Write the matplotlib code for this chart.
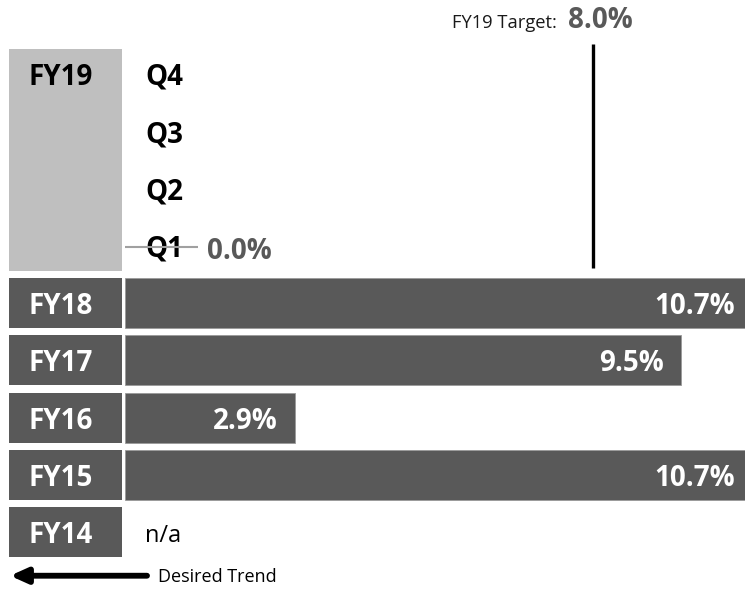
import matplotlib
matplotlib.use("Agg")
import matplotlib.pyplot as plt

plt.rcParams['font.family'] = ['Open Sans', 'DejaVu Sans']

# data
years = ['FY18', 'FY17', 'FY16', 'FY15', 'FY14']
year_values = [10.7, 9.5, 2.9, 10.7, None]
quarters = ['Q4', 'Q3', 'Q2', 'Q1']
quarter_values = [None, None, None, 0.0]
current_year = 'FY19'
target = 8.0
target_label = 'FY19 Target:'

BAR = '#595959'
LIGHT = '#bfbfbf'
BIG = 20
DY = 0.06  # nudge text down a little so caps sit in the middle of the row

fig = plt.figure(figsize=(7.45, 5.9), dpi=100)
ax = fig.add_axes([0, 0, 1, 1])
ax.set_xlim(-2.135, 10.589)
ax.set_ylim(5.009, -5.288)
ax.axis('off')

h = 0.873
box_left, box_w = -1.973, 1.922
text_x = -1.105

year_rows = list(range(len(years)))
quarter_rows = [-4, -3, -2, -1]

# year label boxes
ax.barh(year_rows, box_w, left=box_left, height=h, color=BAR)
for r, y in zip(year_rows, years):
    ax.text(text_x, r + DY, y, color='white', fontsize=BIG, fontweight='bold',
            ha='center', va='center')

# current year box covering the quarters
top = quarter_rows[0] - h / 2
bottom = quarter_rows[-1] + h / 2
ax.barh((top + bottom) / 2, box_w, left=box_left, height=bottom - top, color=LIGHT)
ax.text(text_x, quarter_rows[0] + DY, current_year, color='black', fontsize=BIG,
        fontweight='bold', ha='center', va='center')

# yearly bars
for r, v in zip(year_rows, year_values):
    if v is None:
        ax.text(0.34, r + DY, 'n/a', color='black', fontsize=17, ha='left', va='center')
        continue
    ax.barh(r, v, left=0, height=h, color=BAR, edgecolor='#9a9a9a', linewidth=0.6)
    ax.annotate(f'{v:.1f}%', xy=(v, r + DY), xytext=(-12.2, 0), textcoords='offset points',
                color='white', fontsize=BIG, fontweight='bold', ha='right', va='center',
                annotation_clip=False)

# quarters
for r, q, v in zip(quarter_rows, quarters, quarter_values):
    ax.text(0.34, r + DY, q, color='black', fontsize=BIG, fontweight='bold',
            ha='left', va='center')
    if v is not None:
        ax.barh(r, v, left=0, height=h, color=BAR)
        ax.hlines(r + 0.03, v, v + 1.25, color='#a0a0a0', linewidth=1.5, zorder=3)
        ax.annotate(f'{v:.1f}%', xy=(v, r + DY), xytext=(59, -2), textcoords='offset points',
                    color=BAR, fontsize=BIG, fontweight='bold', ha='left', va='center')

# target line
ax.vlines(target, -4.52, -0.61, color='black', linewidth=2.4)
ax.annotate(target_label, xy=(target, -4.80), xytext=(-26, 0), textcoords='offset points',
            color='#1a1a1a', fontsize=13.2, ha='right', va='baseline')
ax.annotate(f'{target:.1f}%', xy=(target, -4.80), xytext=(-18, 0), textcoords='offset points',
            color=BAR, fontsize=BIG, fontweight='bold', ha='left', va='baseline')

# desired trend arrow
ax.annotate('', xy=(-1.964, 4.76), xytext=(0.376, 4.76),
            arrowprops=dict(arrowstyle='-|>,head_length=1.0,head_width=0.45',
                            color='black', linewidth=4.2, shrinkA=0, shrinkB=0))
ax.text(0.564, 4.76 + 0.03, 'Desired Trend', color='black', fontsize=13, ha='left', va='center')

fig.savefig('out.png', dpi=100)
